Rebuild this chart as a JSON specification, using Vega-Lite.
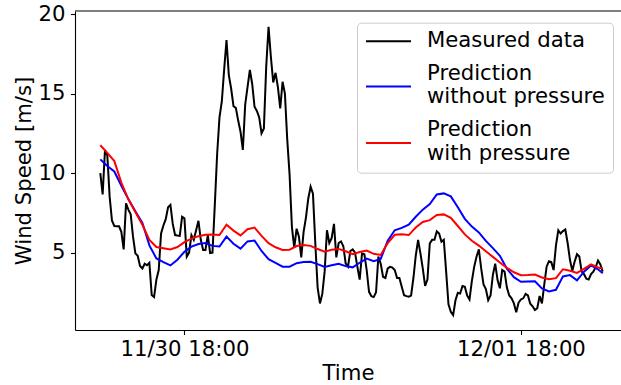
{
 "$schema": "https://vega.github.io/schema/vega-lite/v6.json",
 "width": 546,
 "height": 319,
 "autosize": "none",
 "padding": {"left": 75, "top": 11, "right": 0, "bottom": 55},
 "background": "white",
 "config": {"view": {"stroke": null}, "font": "DejaVu Sans"},
 "layer": [
  {
   "data": {"values": [
{"t":"2023-11-30T12:00Z","m":10.0,"a":10.86,"b":11.75},
{"t":"2023-11-30T12:10Z","m":8.66},
{"t":"2023-11-30T12:20Z","m":11.45},
{"t":"2023-11-30T12:30Z","m":11.1,"a":10.44,"b":11.27},
{"t":"2023-11-30T12:40Z","m":8.5},
{"t":"2023-11-30T12:50Z","m":7.0},
{"t":"2023-11-30T13:00Z","m":6.67,"a":10.1,"b":10.75},
{"t":"2023-11-30T13:10Z","m":6.66},
{"t":"2023-11-30T13:20Z","m":6.65},
{"t":"2023-11-30T13:30Z","m":6.3,"a":9.2,"b":9.4},
{"t":"2023-11-30T13:40Z","m":5.2},
{"t":"2023-11-30T13:50Z","m":8.1},
{"t":"2023-11-30T14:00Z","m":7.7,"a":8.36,"b":8.35},
{"t":"2023-11-30T14:10Z","m":7.4},
{"t":"2023-11-30T14:20Z","m":6.0},
{"t":"2023-11-30T14:30Z","m":4.95,"a":7.6,"b":7.55},
{"t":"2023-11-30T14:40Z","m":4.8},
{"t":"2023-11-30T14:50Z","m":4.15},
{"t":"2023-11-30T15:00Z","m":4.0,"a":6.87,"b":6.75},
{"t":"2023-11-30T15:10Z","m":4.3},
{"t":"2023-11-30T15:20Z","m":4.2},
{"t":"2023-11-30T15:30Z","m":4.35,"a":5.45,"b":5.8},
{"t":"2023-11-30T15:40Z","m":2.33},
{"t":"2023-11-30T15:50Z","m":2.2},
{"t":"2023-11-30T16:00Z","m":3.3,"a":4.63,"b":5.35},
{"t":"2023-11-30T16:10Z","m":3.9},
{"t":"2023-11-30T16:20Z","m":6.2},
{"t":"2023-11-30T16:30Z","m":6.7,"a":4.4,"b":5.27},
{"t":"2023-11-30T16:40Z","m":7.1},
{"t":"2023-11-30T16:50Z","m":7.85},
{"t":"2023-11-30T17:00Z","m":8.0,"a":4.19,"b":5.2},
{"t":"2023-11-30T17:10Z","m":6.8},
{"t":"2023-11-30T17:20Z","m":6.1},
{"t":"2023-11-30T17:30Z","m":6.07,"a":4.55,"b":5.35},
{"t":"2023-11-30T17:40Z","m":6.05},
{"t":"2023-11-30T17:50Z","m":7.25},
{"t":"2023-11-30T18:00Z","m":7.15,"a":5.05,"b":5.66},
{"t":"2023-11-30T18:10Z","m":4.74},
{"t":"2023-11-30T18:20Z","m":5.0},
{"t":"2023-11-30T18:30Z","m":6.1,"a":5.37,"b":5.88},
{"t":"2023-11-30T18:40Z","m":5.8},
{"t":"2023-11-30T18:50Z","m":6.4},
{"t":"2023-11-30T19:00Z","m":7.0,"a":5.54,"b":6.03},
{"t":"2023-11-30T19:10Z","m":5.8},
{"t":"2023-11-30T19:20Z","m":5.16},
{"t":"2023-11-30T19:30Z","m":5.16,"a":5.6,"b":6.12},
{"t":"2023-11-30T19:40Z","m":6.1},
{"t":"2023-11-30T19:50Z","m":4.97},
{"t":"2023-11-30T20:00Z","m":5.0,"a":5.42,"b":6.13},
{"t":"2023-11-30T20:10Z","m":8.0},
{"t":"2023-11-30T20:20Z","m":11.2},
{"t":"2023-11-30T20:30Z","m":13.5,"a":5.38,"b":6.1},
{"t":"2023-11-30T20:40Z","m":14.5},
{"t":"2023-11-30T20:50Z","m":16.5},
{"t":"2023-11-30T21:00Z","m":18.36,"a":6.0,"b":6.75},
{"t":"2023-11-30T21:10Z","m":16.16},
{"t":"2023-11-30T21:20Z","m":15.3},
{"t":"2023-11-30T21:30Z","m":14.2,"a":5.55,"b":6.38},
{"t":"2023-11-30T21:40Z","m":14.1},
{"t":"2023-11-30T21:50Z","m":13.3},
{"t":"2023-11-30T22:00Z","m":12.6,"a":5.25,"b":6.08},
{"t":"2023-11-30T22:10Z","m":11.45},
{"t":"2023-11-30T22:20Z","m":14.3},
{"t":"2023-11-30T22:30Z","m":15.4,"a":5.7,"b":6.47},
{"t":"2023-11-30T22:40Z","m":16.48},
{"t":"2023-11-30T22:50Z","m":15.6},
{"t":"2023-11-30T23:00Z","m":14.17,"a":5.75,"b":6.57},
{"t":"2023-11-30T23:10Z","m":13.9},
{"t":"2023-11-30T23:20Z","m":13.5},
{"t":"2023-11-30T23:30Z","m":12.5,"a":5.1,"b":6.05},
{"t":"2023-11-30T23:40Z","m":12.8},
{"t":"2023-11-30T23:50Z","m":16.7},
{"t":"2023-12-01T00:00Z","m":19.2,"a":4.58,"b":5.59},
{"t":"2023-12-01T00:10Z","m":17.3},
{"t":"2023-12-01T00:20Z","m":15.7},
{"t":"2023-12-01T00:30Z","m":16.3,"a":4.35,"b":5.33},
{"t":"2023-12-01T00:40Z","m":15.4},
{"t":"2023-12-01T00:50Z","m":14.07},
{"t":"2023-12-01T01:00Z","m":15.74,"a":4.11,"b":5.16},
{"t":"2023-12-01T01:10Z","m":15.0},
{"t":"2023-12-01T01:20Z","m":12.1},
{"t":"2023-12-01T01:30Z","m":9.9,"a":4.11,"b":5.18},
{"t":"2023-12-01T01:40Z","m":6.6},
{"t":"2023-12-01T01:50Z","m":5.3},
{"t":"2023-12-01T02:00Z","m":6.5,"a":4.33,"b":5.41},
{"t":"2023-12-01T02:10Z","m":6.0},
{"t":"2023-12-01T02:20Z","m":4.7},
{"t":"2023-12-01T02:30Z","m":6.3,"a":4.4,"b":5.48},
{"t":"2023-12-01T02:40Z","m":7.2},
{"t":"2023-12-01T02:50Z","m":8.4},
{"t":"2023-12-01T03:00Z","m":9.14,"a":4.42,"b":5.42},
{"t":"2023-12-01T03:10Z","m":8.7},
{"t":"2023-12-01T03:20Z","m":5.6},
{"t":"2023-12-01T03:30Z","m":2.8,"a":4.27,"b":5.22},
{"t":"2023-12-01T03:40Z","m":1.8},
{"t":"2023-12-01T03:50Z","m":2.4},
{"t":"2023-12-01T04:00Z","m":3.8,"a":4.1,"b":5.06},
{"t":"2023-12-01T04:10Z","m":6.4},
{"t":"2023-12-01T04:20Z","m":5.6},
{"t":"2023-12-01T04:30Z","m":5.9,"a":4.2,"b":5.17},
{"t":"2023-12-01T04:40Z","m":6.8},
{"t":"2023-12-01T04:50Z","m":4.7},
{"t":"2023-12-01T05:00Z","m":5.6,"a":4.3,"b":5.23},
{"t":"2023-12-01T05:10Z","m":5.7},
{"t":"2023-12-01T05:20Z","m":5.4},
{"t":"2023-12-01T05:30Z","m":4.32,"a":4.15,"b":5.08},
{"t":"2023-12-01T05:40Z","m":4.11},
{"t":"2023-12-01T05:50Z","m":5.1},
{"t":"2023-12-01T06:00Z","m":5.2,"a":4.07,"b":4.9},
{"t":"2023-12-01T06:10Z","m":5.0},
{"t":"2023-12-01T06:20Z","m":4.11},
{"t":"2023-12-01T06:30Z","m":3.3,"a":4.36,"b":5.03},
{"t":"2023-12-01T06:40Z","m":4.95},
{"t":"2023-12-01T06:50Z","m":4.9},
{"t":"2023-12-01T07:00Z","m":3.9,"a":4.62,"b":5.13},
{"t":"2023-12-01T07:10Z","m":2.53},
{"t":"2023-12-01T07:20Z","m":2.25},
{"t":"2023-12-01T07:30Z","m":2.2,"a":4.46,"b":4.92},
{"t":"2023-12-01T07:40Z","m":2.5},
{"t":"2023-12-01T07:50Z","m":4.74},
{"t":"2023-12-01T08:00Z","m":4.3,"a":4.6,"b":4.85},
{"t":"2023-12-01T08:10Z","m":3.48},
{"t":"2023-12-01T08:20Z","m":3.4},
{"t":"2023-12-01T08:30Z","m":4.0,"a":5.75,"b":5.6},
{"t":"2023-12-01T08:40Z","m":4.1},
{"t":"2023-12-01T08:50Z","m":4.05},
{"t":"2023-12-01T09:00Z","m":3.9,"a":6.4,"b":6.12},
{"t":"2023-12-01T09:10Z","m":3.4},
{"t":"2023-12-01T09:20Z","m":3.4},
{"t":"2023-12-01T09:30Z","m":2.85,"a":6.55,"b":6.15},
{"t":"2023-12-01T09:40Z","m":2.32},
{"t":"2023-12-01T09:50Z","m":2.26},
{"t":"2023-12-01T10:00Z","m":2.22,"a":6.75,"b":6.1},
{"t":"2023-12-01T10:10Z","m":2.3},
{"t":"2023-12-01T10:20Z","m":3.4},
{"t":"2023-12-01T10:30Z","m":4.8,"a":7.25,"b":6.57},
{"t":"2023-12-01T10:40Z","m":5.8},
{"t":"2023-12-01T10:50Z","m":4.95},
{"t":"2023-12-01T11:00Z","m":4.0,"a":7.7,"b":6.92},
{"t":"2023-12-01T11:10Z","m":2.9},
{"t":"2023-12-01T11:20Z","m":3.3},
{"t":"2023-12-01T11:30Z","m":5.58,"a":8.05,"b":7.04},
{"t":"2023-12-01T11:40Z","m":5.8},
{"t":"2023-12-01T11:50Z","m":5.8},
{"t":"2023-12-01T12:00Z","m":6.33,"a":8.65,"b":7.36},
{"t":"2023-12-01T12:10Z","m":6.2},
{"t":"2023-12-01T12:20Z","m":5.68},
{"t":"2023-12-01T12:30Z","m":5.8,"a":8.72,"b":7.4},
{"t":"2023-12-01T12:40Z","m":3.8},
{"t":"2023-12-01T12:50Z","m":1.75},
{"t":"2023-12-01T13:00Z","m":1.28,"a":8.53,"b":7.18},
{"t":"2023-12-01T13:10Z","m":1.07},
{"t":"2023-12-01T13:20Z","m":2.0},
{"t":"2023-12-01T13:30Z","m":2.47,"a":7.85,"b":6.67},
{"t":"2023-12-01T13:40Z","m":2.42},
{"t":"2023-12-01T13:50Z","m":2.9},
{"t":"2023-12-01T14:00Z","m":2.85,"a":7.12,"b":6.14},
{"t":"2023-12-01T14:10Z","m":2.3},
{"t":"2023-12-01T14:20Z","m":2.05},
{"t":"2023-12-01T14:30Z","m":3.2,"a":6.63,"b":5.74},
{"t":"2023-12-01T14:40Z","m":4.1},
{"t":"2023-12-01T14:50Z","m":4.74},
{"t":"2023-12-01T15:00Z","m":5.2,"a":6.27,"b":5.44},
{"t":"2023-12-01T15:10Z","m":4.0},
{"t":"2023-12-01T15:20Z","m":3.0},
{"t":"2023-12-01T15:30Z","m":2.7,"a":5.73,"b":5.08},
{"t":"2023-12-01T15:40Z","m":2.0},
{"t":"2023-12-01T15:50Z","m":2.3},
{"t":"2023-12-01T16:00Z","m":3.6,"a":5.28,"b":4.73},
{"t":"2023-12-01T16:10Z","m":4.3},
{"t":"2023-12-01T16:20Z","m":3.27},
{"t":"2023-12-01T16:30Z","m":2.75,"a":4.8,"b":4.38},
{"t":"2023-12-01T16:40Z","m":3.9},
{"t":"2023-12-01T16:50Z","m":3.8},
{"t":"2023-12-01T17:00Z","m":2.8,"a":3.99,"b":4.04},
{"t":"2023-12-01T17:10Z","m":2.3},
{"t":"2023-12-01T17:20Z","m":2.12},
{"t":"2023-12-01T17:30Z","m":1.8,"a":3.45,"b":3.76},
{"t":"2023-12-01T17:40Z","m":1.25},
{"t":"2023-12-01T17:50Z","m":1.85},
{"t":"2023-12-01T18:00Z","m":2.05,"a":3.16,"b":3.58},
{"t":"2023-12-01T18:10Z","m":2.12},
{"t":"2023-12-01T18:20Z","m":2.4},
{"t":"2023-12-01T18:30Z","m":2.3,"a":3.18,"b":3.59},
{"t":"2023-12-01T18:40Z","m":1.78},
{"t":"2023-12-01T18:50Z","m":1.62},
{"t":"2023-12-01T19:00Z","m":1.38,"a":3.2,"b":3.62},
{"t":"2023-12-01T19:10Z","m":1.5},
{"t":"2023-12-01T19:20Z","m":2.27},
{"t":"2023-12-01T19:30Z","m":1.8,"a":2.75,"b":3.43},
{"t":"2023-12-01T19:40Z","m":3.0},
{"t":"2023-12-01T19:50Z","m":4.11},
{"t":"2023-12-01T20:00Z","m":4.45,"a":2.56,"b":3.32},
{"t":"2023-12-01T20:10Z","m":4.4},
{"t":"2023-12-01T20:20Z","m":3.9},
{"t":"2023-12-01T20:30Z","m":5.45,"a":2.66,"b":3.39},
{"t":"2023-12-01T20:40Z","m":6.4},
{"t":"2023-12-01T20:50Z","m":6.2},
{"t":"2023-12-01T21:00Z","m":6.35,"a":3.5,"b":3.95},
{"t":"2023-12-01T21:10Z","m":6.45},
{"t":"2023-12-01T21:20Z","m":5.6},
{"t":"2023-12-01T21:30Z","m":4.53,"a":3.58,"b":3.86},
{"t":"2023-12-01T21:40Z","m":3.85},
{"t":"2023-12-01T21:50Z","m":4.43},
{"t":"2023-12-01T22:00Z","m":4.9,"a":3.25,"b":3.72},
{"t":"2023-12-01T22:10Z","m":4.75},
{"t":"2023-12-01T22:20Z","m":3.8},
{"t":"2023-12-01T22:30Z","m":3.64,"a":3.8,"b":3.97},
{"t":"2023-12-01T22:40Z","m":3.35},
{"t":"2023-12-01T22:50Z","m":3.3},
{"t":"2023-12-01T23:00Z","m":3.65,"a":4.19,"b":4.25},
{"t":"2023-12-01T23:10Z","m":3.8},
{"t":"2023-12-01T23:20Z","m":4.08},
{"t":"2023-12-01T23:30Z","m":4.5,"a":3.95,"b":4.06},
{"t":"2023-12-01T23:40Z","m":4.25},
{"t":"2023-12-01T23:50Z","m":3.8,"a":3.7,"b":4.0}
   ]},
   "transform": [
    {"fold": ["m", "a", "b"], "as": ["s", "v"]},
    {"filter": "isValid(datum.v)"}
   ],
   "mark": {"type": "line", "strokeWidth": 2},
   "encoding": {
    "x": {
     "field": "t", "type": "temporal", "title": "Time",
     "scale": {"type": "utc", "nice": false, "domain": [
      {"year": 2023, "month": 11, "date": 30, "hours": 10, "minutes": 11, "seconds": 40, "utc": true},
      {"year": 2023, "month": 12, "date": 2, "hours": 1, "minutes": 8, "seconds": 20, "utc": true}
     ]},
     "axis": {
      "values": [
       {"year": 2023, "month": 11, "date": 30, "hours": 18, "utc": true},
       {"year": 2023, "month": 12, "date": 1, "hours": 18, "utc": true}
      ],
      "labelExpr": "utcFormat(datum.value, '%m/%d %H:%M')",
      "grid": false, "tickSize": 4.5, "tickColor": "black", "tickWidth": 1.1,
      "domainColor": "black", "domainWidth": 1.1,
      "labelFont": "DejaVu Sans", "labelFontSize": 21.2, "labelColor": "black",
      "labelPadding": 4, "labelFlush": false, "labelOverlap": false,
      "titleFont": "DejaVu Sans", "titleFontSize": 21.2, "titleFontWeight": "normal",
      "titleColor": "black", "titlePadding": 3
     }
    },
    "y": {
     "field": "v", "type": "quantitative", "title": "Wind Speed [m/s]",
     "scale": {"domain": [0.13, 20.19], "nice": false, "zero": false},
     "axis": {
      "values": [5, 10, 15, 20],
      "grid": false, "tickSize": 4.5, "tickColor": "black", "tickWidth": 1.1,
      "domainColor": "black", "domainWidth": 1.1,
      "labelFont": "DejaVu Sans", "labelFontSize": 21.2, "labelColor": "black",
      "labelPadding": 5.5, "labelFlush": false, "labelOverlap": false,
      "titleFont": "DejaVu Sans", "titleFontSize": 21.2, "titleFontWeight": "normal",
      "titleColor": "black", "titlePadding": 4
     }
    },
    "color": {
     "field": "s", "type": "nominal",
     "scale": {"domain": ["m", "a", "b"], "range": ["#000000", "#0000ff", "#ff0000"]},
     "legend": {
      "title": null, "orient": "none", "legendX": 282, "legendY": 11.7,
      "labelExpr": "datum.value == 'm' ? 'Measured data' : datum.value == 'a' ? ['Prediction', 'without pressure'] : ['Prediction', 'with pressure']",
      "symbolType": "stroke", "symbolSize": 2025, "symbolStrokeWidth": 2,
      "labelFont": "DejaVu Sans", "labelFontSize": 21.2, "labelColor": "black",
      "labelOffset": 15, "labelLimit": 400, "padding": 8, "rowPadding": 10.5,
      "fillColor": "rgba(255,255,255,0.8)", "strokeColor": "#cccccc", "cornerRadius": 4,
      "encode": {
       "labels": {"update": {"lineHeight": {"value": 23.4}, "y": {"value": 10.6}}},
       "symbols": {"update": {"y": {"signal": "datum.value == 'm' ? 10.6 : 23.2"}}}
      }
     }
    }
   }
  },
  {
   "data": {"values": [{}]},
   "mark": {"type": "rule", "color": "black", "strokeWidth": 1.1},
   "encoding": {"y": {"datum": 20.19}}
  }
 ]
}
